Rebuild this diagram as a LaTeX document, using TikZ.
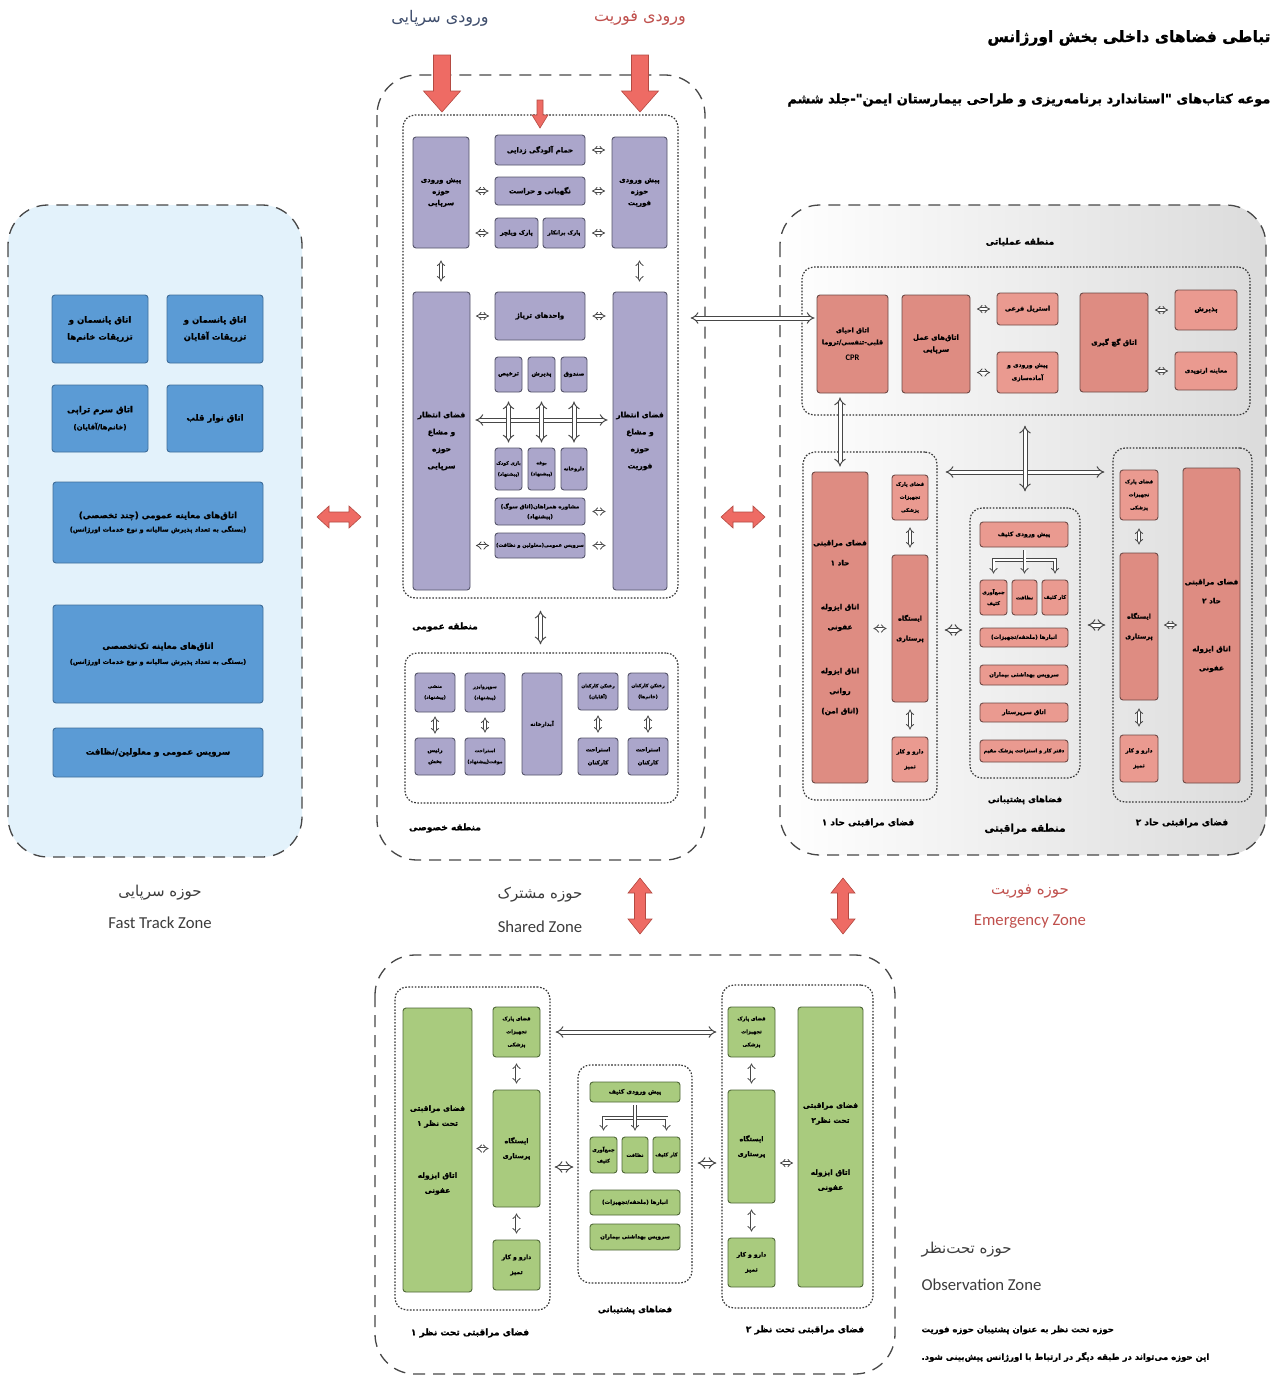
\documentclass[tikz,border=0pt]{standalone}
\usepackage{fontspec}
\setmainfont{DejaVu Sans}
\newfontfamily\arabicfont[Script=Arabic, BoldFeatures={FakeBold=1}]{DejaVu Sans}
\newfontfamily\latfont{Carlito}
\TeXXeTstate=1
\usetikzlibrary{arrows.meta}
\definecolor{ftbg}{HTML}{E3F2FB}
\definecolor{ftbox}{HTML}{5B9BD5}
\definecolor{ftboxD}{HTML}{3F6E9A}
\definecolor{cPur}{HTML}{ABA6CB}
\definecolor{cPurD}{HTML}{55546A}
\definecolor{cSal}{HTML}{EA9A90}
\definecolor{cSalT}{HTML}{DE8C82}
\definecolor{cSalD}{HTML}{6E4A46}
\definecolor{cGrn}{HTML}{A9CB7E}
\definecolor{cGrnD}{HTML}{4E6637}
\definecolor{cRed}{HTML}{EE6B64}
\definecolor{cRedD}{HTML}{B44A42}
\definecolor{cBlueT}{HTML}{3E4D6C}
\definecolor{cRedT}{HTML}{C0504D}
\definecolor{cGrayT}{HTML}{3C3C3C}
\newcommand\RL[1]{\beginR#1\endR}
\newcommand\af[2]{\arabicfont\bfseries\fontsize{#1}{#2}\selectfont}
\newcommand\bx[7]{\node[#1, minimum width={(#5)-(#3)}, minimum height={(#6)-(#4)}] (#2) at ({((#3)+(#5))/2},{((#4)+(#6))/2}) {#7};}
\tikzset{
  box/.style={rectangle, rounded corners=3pt, line width=0.9pt, align=center, inner sep=1pt, text=black, font=\af{7}{12}},
  bb/.style={box, fill=ftbox, draw=ftboxD, font=\af{8.5}{17}},
  pb/.style={box, fill=cPur, draw=cPurD},
  eb/.style={box, fill=cSal, draw=cSalD},
  et/.style={box, fill=cSalT, draw=cSalD},
  gb/.style={box, fill=cGrn, draw=cGrnD},
  tx4/.style={font=\af{4.6}{11}},
  tx5/.style={font=\af{5}{10}},
  tx55/.style={font=\af{5.5}{11}},
  tx6/.style={font=\af{6}{12}},
  tx65/.style={font=\af{6.5}{12}},
  parkt/.style={font=\af{5}{13}},
  zin/.style={rectangle, draw=black!80, line width=1.2pt, dash pattern=on 1.6pt off 1.6pt, rounded corners=12pt},
  zout/.style={draw=black!72, line width=1.3pt, dash pattern=on 12pt off 8pt, rounded corners=40pt},
  hs/.style={draw=black!72, line width=0.8pt, double=white, double distance=2pt, {Implies}-{Implies}},
  hb/.style={draw=black!72, line width=1pt, double=white, double distance=3pt, {Implies}-{Implies}},
  lab/.style={font=\af{9}{11}, text=black},
  zfa/.style={font=\arabicfont\fontsize{15}{18}\selectfont, text=cGrayT},
  zen/.style={font=\latfont\fontsize{16.7}{19}\selectfont, text=cGrayT},
  redarr/.style={fill=cRed, draw=cRedD, line width=0.6pt},
  rdown/.pic={\path[redarr] (-8.5,0) -- (8.5,0) -- (8.5,36) -- (18.5,36) -- (0,57) -- (-18.5,36) -- (-8.5,36) -- cycle;},
  rsmall/.pic={\path[redarr] (-3,0) -- (3,0) -- (3,15) -- (8,15) -- (0,28) -- (-8,15) -- (-3,15) -- cycle;},
  rdh/.pic={\path[redarr] (-22,0) -- (-10,-11) -- (-10,-5) -- (10,-5) -- (10,-11) -- (22,0) -- (10,11) -- (10,5) -- (-10,5) -- (-10,11) -- cycle;},
  rdv/.pic={\path[redarr] (0,-28) -- (12,-13) -- (5.5,-13) -- (5.5,13) -- (12,13) -- (0,28) -- (-12,13) -- (-5.5,13) -- (-5.5,-13) -- (-12,-13) -- cycle;},
}
\begin{document}
\begin{tikzpicture}[x=1pt,y=-1pt]
\useasboundingbox (0,0) rectangle (1272,1377);
\fill[white] (0,0) rectangle (1272,1377);

% ---------------- titles
\node[anchor=east, font=\af{15.5}{19}] (title) at (1274,38) {\RL{تباطی فضاهای داخلی بخش اورژانس}};
\node[anchor=east, font=\af{13}{16}] (subtitle) at (1274,100) {\RL{موعه کتاب‌های "استاندارد برنامه‌ریزی و طراحی بیمارستان ایمن"-جلد ششم}};
\node[font=\arabicfont\fontsize{16}{19}\selectfont, text=cBlueT] (entS) at (440,18) {\RL{ورودی سرپایی}};
\node[font=\arabicfont\fontsize{16}{19}\selectfont, text=cRedT] (entF) at (640,18) {\RL{ورودی فوریت}};

% ---------------- zone outlines
\draw[zout, fill=ftbg] (8,205) rectangle (302,857);
\draw[zout] (377,75) rectangle (705,860);
\draw[zout, left color=white, right color=black!14] (780,205) rectangle (1266,855);
\draw[zout] (375,955) rectangle (895,1374);

\bx{zin}{gen}{403}{115}{678}{598}{}
\bx{zin}{priv}{405}{653}{678}{803}{}
\bx{zin}{ops}{802}{267}{1250}{415}{}
\bx{zin}{a1z}{803}{452}{937}{800}{}
\bx{zin}{supz}{970}{508}{1080}{778}{}
\bx{zin}{a2z}{1113}{448}{1252}{802}{}
\bx{zin}{o1z}{395}{987}{550}{1310}{}
\bx{zin}{osz}{578}{1065}{692}{1283}{}
\bx{zin}{o2z}{722}{985}{873}{1308}{}

% ---------------- red arrows
\pic at (442,55) {rdown};
\pic at (640,55) {rdown};
\pic at (540,100) {rsmall};
\pic at (339,517) {rdh};
\pic at (743,517) {rdh};
\pic at (640,906) {rdv};
\pic at (843,906) {rdv};

% ---------------- fast track
\bx{bb}{ft1}{52}{295}{148}{363}{\RL{اتاق پانسمان و}\\\RL{تزریقات خانم‌ها}}
\bx{bb}{ft2}{167}{295}{263}{363}{\RL{اتاق پانسمان و}\\\RL{تزریقات آقایان}}
\bx{bb}{ft3}{52}{385}{148}{452}{\RL{اتاق سرم تراپی}\\{\af{7}{9}\RL{(خانم‌ها/آقایان)}}}
\bx{bb}{ft4}{167}{385}{263}{452}{\RL{اتاق نوار قلب}}
\bx{bb,font=\af{8.5}{13.5}}{ft5}{53}{482}{263}{563}{\RL{اتاق‌های معاینه عمومی (چند تخصصی)}\\{\af{6.5}{9}\RL{(بستگی به تعداد پذیرش سالیانه و نوع خدمات اورژانس)}}}
\bx{bb,font=\af{8.5}{15}}{ft6}{53}{605}{263}{703}{\RL{اتاق‌های معاینه تک‌تخصصی}\\{\af{6.5}{9}\RL{(بستگی به تعداد پذیرش سالیانه و نوع خدمات اورژانس)}}}
\bx{bb}{ft7}{53}{728}{263}{777}{\RL{سرویس عمومی و معلولین/نظافت}}
\node[zfa] (ftfa) at (160,893) {\RL{حوزه سرپایی}};
\node[zen] (ften) at (160,923) {Fast Track Zone};

% ---------------- shared zone
\bx{pb,font=\af{7}{11.5}}{preS}{413}{137}{469}{248}{\RL{پیش ورودی}\\\RL{حوزه}\\\RL{سرپایی}}
\bx{pb,font=\af{7}{11.5}}{preF}{612}{137}{667}{248}{\RL{پیش ورودی}\\\RL{حوزه}\\\RL{فوریت}}
\bx{pb}{decon}{495}{135}{585}{165}{\RL{حمام آلودگی زدایی}}
\bx{pb}{guard}{495}{177}{585}{205}{\RL{نگهبانی و حراست}}
\bx{pb,tx6}{wheel}{495}{218}{538}{248}{\RL{پارک ویلچر}}
\bx{pb,tx55}{stretch}{543}{218}{585}{248}{\RL{پارک برانکار}}
\bx{pb,font=\af{7.5}{17}}{waitS}{413}{292}{470}{590}{\RL{فضای انتظار}\\\RL{و مشاع}\\\RL{حوزه}\\\RL{سرپایی}}
\bx{pb,font=\af{7.5}{17}}{waitF}{613}{292}{667}{590}{\RL{فضای انتظار}\\\RL{و مشاع}\\\RL{حوزه}\\\RL{فوریت}}
\bx{pb}{triage}{495}{292}{585}{340}{\RL{واحدهای تریاژ}}
\bx{pb,tx6}{disch}{495}{357}{522}{392}{\RL{ترخیص}}
\bx{pb,tx6}{admit}{528}{357}{555}{392}{\RL{پذیرش}}
\bx{pb,tx6}{cash}{561}{357}{587}{392}{\RL{صندوق}}
\bx{pb,tx4}{play}{495}{448}{522}{490}{\RL{بازی کودک}\\\RL{(پیشنهاد)}}
\bx{pb,tx4}{buffet}{528}{448}{555}{490}{\RL{بوفه}\\\RL{(پیشنهاد)}}
\bx{pb,tx5}{pharm}{561}{448}{587}{490}{\RL{داروخانه}}
\bx{pb,tx55,font=\af{5.5}{10}}{counsel}{495}{498}{585}{525}{\RL{مشاوره همراهان(اتاق سوگ)}\\\RL{(پیشنهاد)}}
\bx{pb,tx5}{wc}{495}{533}{585}{558}{\RL{سرویس عمومی(معلولین و نظافت)}}

\bx{pb,tx4}{sec}{415}{673}{455}{712}{\RL{منشی}\\\RL{(پیشنهاد)}}
\bx{pb,tx55}{head}{415}{738}{455}{775}{\RL{رئیس}\\\RL{بخش}}
\bx{pb,tx4}{sup}{465}{673}{505}{712}{\RL{سوپروایزر}\\\RL{(پیشنهاد)}}
\bx{pb,tx4}{rest0}{465}{738}{505}{775}{\RL{استراحت}\\\RL{موقت(پیشنهاد)}}
\bx{pb,tx55}{pantry}{522}{673}{562}{775}{\RL{آبدارخانه}}
\bx{pb,tx4}{lockM}{578}{673}{618}{710}{\RL{رختکن کارکنان}\\\RL{(آقایان)}}
\bx{pb,tx4}{lockF}{628}{673}{668}{710}{\RL{رختکن کارکنان}\\\RL{(خانم‌ها)}}
\bx{pb,font=\af{5.5}{13}}{rest1}{578}{738}{618}{775}{\RL{استراحت}\\\RL{کارکنان}}
\bx{pb,font=\af{5.5}{13}}{rest2}{628}{738}{668}{775}{\RL{استراحت}\\\RL{کارکنان}}

\node[lab] (labgen) at (445,627) {\RL{منطقه عمومی}};
\node[lab] (labpriv) at (445,828) {\RL{منطقه خصوصی}};
\node[zfa] (shfa) at (540,895) {\RL{حوزه مشترک}};
\node[zen] (shen) at (540,927) {Shared Zone};

% shared connectors
\draw[hs, shorten <=6pt, shorten >=6pt] (preS.east |- guard) -- (guard.west);
\draw[hs, shorten <=6pt, shorten >=6pt] (preS.east |- wheel) -- (wheel.west);
\draw[hs, shorten <=6.5pt, shorten >=6.5pt] (decon.east) -- (preF.west |- decon);
\draw[hs, shorten <=6.5pt, shorten >=6.5pt] (guard.east) -- (preF.west |- guard);
\draw[hs, shorten <=6.5pt, shorten >=6.5pt] (stretch.east) -- (preF.west |- stretch);
\draw[hs, shorten <=12pt, shorten >=10pt] (preS.south) -- (preS.south |- waitS.north);
\draw[hs, shorten <=12pt, shorten >=10pt] (preF.south) -- (preF.south |- waitF.north);
\draw[hs, shorten <=5.5pt, shorten >=5.5pt] (waitS.east |- triage) -- (triage.west);
\draw[hs, shorten <=7pt, shorten >=7pt] (triage.east) -- (waitF.west |- triage);
\draw[hs, shorten <=7pt, shorten >=7pt] (counsel.east) -- (waitF.west |- counsel);
\draw[hs, shorten <=5.5pt, shorten >=5.5pt] (waitS.east |- wc) -- (wc.west);
\draw[hs, shorten <=7pt, shorten >=7pt] (wc.east) -- (waitF.west |- wc);
\coordinate (y420) at (0,420);
\draw[hb, shorten <=5pt, shorten >=5pt] (waitS.east |- y420) -- (waitF.west |- y420);
\foreach \a/\b in {disch/play, admit/buffet, cash/pharm}
  \draw[hb, shorten <=9pt, shorten >=5pt] (\a.south) -- (\a.south |- \b.north);
\foreach \a in {disch,admit,cash}
  \fill[white] (\a.south |- y420) ++(-1.5,-1.5) rectangle ++(3,3);
\draw[hb, shorten <=12pt, shorten >=8pt] (gen.south) -- (gen.south |- priv.north);
\draw[hs, shorten <=4pt, shorten >=4pt] (sec.south) -- (sec.south |- head.north);
\draw[hs, shorten <=5pt, shorten >=5pt] (sup.south) -- (sup.south |- rest0.north);
\draw[hs, shorten <=5pt, shorten >=5pt] (lockM.south) -- (lockM.south |- rest1.north);
\draw[hs, shorten <=5pt, shorten >=5pt] (lockF.south) -- (lockF.south |- rest2.north);

% ---------------- emergency zone
\node[lab] (labops) at (1020,242) {\RL{منطقه عملیاتی}};
\bx{et,tx65}{cpr}{817}{295}{888}{393}{\RL{اتاق احیای}\\\RL{قلبی-تنفسی/تروما}\\[4pt]{\latfont\bfseries\fontsize{8.5}{10}\selectfont CPR}}
\bx{et}{surg}{902}{295}{970}{393}{\RL{اتاق‌های عمل}\\\RL{سرپایی}}
\bx{eb,tx65}{steril}{997}{293}{1058}{325}{\RL{استریل فرعی}}
\bx{eb,font=\af{6}{13}}{preop}{997}{352}{1058}{393}{\RL{پیش ورودی و}\\\RL{آماده‌سازی}}
\bx{et}{cast}{1080}{293}{1148}{392}{\RL{اتاق گچ گیری}}
\bx{eb}{recep}{1175}{290}{1237}{330}{\RL{پذیرش}}
\bx{eb,tx6}{ortho}{1175}{352}{1237}{390}{\RL{معاینه ارتوپدی}}

\bx{et,font=\af{7.3}{20}}{a1tall}{812}{472}{868}{783}{\RL{فضای مراقبتی}\\\RL{حاد ۱}\\[24pt]\RL{اتاق ایزوله}\\\RL{عفونی}\\[24pt]\RL{اتاق ایزوله}\\\RL{روانی}\\\RL{(اتاق امن)}}
\bx{eb,parkt}{a1park}{892}{475}{928}{520}{\RL{فضای پارک}\\\RL{تجهیزات}\\\RL{پزشکی}}
\bx{et,font=\af{6.5}{20}}{a1nurse}{892}{555}{928}{702}{\RL{ایستگاه}\\\RL{پرستاری}}
\bx{eb,font=\af{5.5}{15}}{a1drug}{892}{737}{928}{782}{\RL{دارو و کار}\\\RL{تمیز}}

\bx{eb,tx6}{dpre}{980}{522}{1068}{547}{\RL{پیش ورودی کثیف}}
\bx{eb,font=\af{5}{11}}{dcol}{980}{580}{1007}{615}{\RL{جمع‌آوری}\\\RL{کثیف}}
\bx{eb,tx5}{dcln}{1012}{580}{1037}{615}{\RL{نظافت}}
\bx{eb,tx5}{dwork}{1042}{580}{1068}{615}{\RL{کار کثیف}}
\bx{eb,tx55}{store}{980}{628}{1068}{647}{\RL{انبارها (ملحفه/تجهیزات)}}
\bx{eb,tx55}{pwc}{980}{665}{1068}{685}{\RL{سرویس بهداشتی بیماران}}
\bx{eb,tx6}{headn}{980}{703}{1068}{722}{\RL{اتاق سرپرستار}}
\bx{eb,tx5}{doc}{980}{740}{1068}{762}{\RL{دفتر کار و استراحت پزشک مقیم}}

\bx{eb,parkt}{a2park}{1120}{470}{1158}{520}{\RL{فضای پارک}\\\RL{تجهیزات}\\\RL{پزشکی}}
\bx{et,font=\af{6.5}{20}}{a2nurse}{1120}{553}{1158}{700}{\RL{ایستگاه}\\\RL{پرستاری}}
\bx{eb,font=\af{5.5}{15}}{a2drug}{1120}{735}{1158}{782}{\RL{دارو و کار}\\\RL{تمیز}}
\bx{et,font=\af{7.3}{19}}{a2tall}{1183}{468}{1240}{783}{\RL{فضای مراقبتی}\\\RL{حاد ۲}\\[29pt]\RL{اتاق ایزوله}\\\RL{عفونی}}

\node[lab] (laba1) at (868,823) {\RL{فضای مراقبتی حاد ۱}};
\node[lab, font=\af{8.5}{10}] (labsup) at (1025,800) {\RL{فضاهای پشتیبانی}};
\node[lab, font=\af{10.5}{12}] (labcare) at (1025,829) {\RL{منطقه مراقبتی}};
\node[lab] (laba2) at (1182,823) {\RL{فضای مراقبتی حاد ۲}};
\node[zfa, text=cRedT] (emfa) at (1030,892) {\RL{حوزه فوریت}};
\node[zen, text=cRedT] (emen) at (1030,922) {Emergency Zone};

% emergency connectors
\coordinate (y318) at (0,318);
\draw[hb, shorten <=12pt, shorten >=2pt] (gen.east |- y318) -- (cpr.west |- y318);
\draw[hs, shorten <=6.5pt, shorten >=6.5pt] (surg.east |- steril) -- (steril.west);
\draw[hs, shorten <=6.5pt, shorten >=6.5pt] (surg.east |- preop) -- (preop.west);
\draw[hs, shorten <=6.5pt, shorten >=6.5pt] (cast.east |- recep) -- (recep.west);
\draw[hs, shorten <=6.5pt, shorten >=6.5pt] (cast.east |- ortho) -- (ortho.west);
\draw[hb, shorten <=4pt, shorten >=5pt] (a1tall.north |- cpr.south) -- (a1tall.north);
\coordinate (y472) at (0,472);
\draw[hb, shorten <=8pt, shorten >=8pt] (a1z.east |- y472) -- (a2z.west |- y472);
\draw[hb, shorten <=10pt, shorten >=16pt] (supz.north |- ops.south) -- (supz.north);
\fill[white] (supz.north |- y472) ++(-1.5,-1.5) rectangle ++(3,3);
\draw[hs, shorten <=5pt, shorten >=5pt] (a1tall.east |- a1nurse) -- (a1nurse.west);
\draw[hs, shorten <=7pt, shorten >=7pt] (a1park.south) -- (a1park.south |- a1nurse.north);
\draw[hs, shorten <=7pt, shorten >=7pt] (a1nurse.south) -- (a1nurse.south |- a1drug.north);
\coordinate (y630) at (0,630);
\draw[hb, shorten <=7pt, shorten >=7pt] (a1z.east |- y630) -- (supz.west |- y630);
\coordinate (y625) at (0,625);
\draw[hb, shorten <=7pt, shorten >=7pt] (supz.east |- y625) -- (a2z.west |- y625);
\draw[hs, shorten <=5.5pt, shorten >=5.5pt] (a2nurse.east |- y625) -- (a2tall.west |- y625);
\draw[hs, shorten <=8pt, shorten >=8pt] (a2park.south) -- (a2park.south |- a2nurse.north);
\draw[hs, shorten <=8pt, shorten >=8pt] (a2nurse.south) -- (a2nurse.south |- a2drug.north);
\coordinate (t1) at (0,560);
\draw[hs, shorten <=6pt, shorten >=6pt] (dcol.north) -- (dcol.north |- t1) -- (dwork.north |- t1) -- (dwork.north);
\draw[hs, -{Implies}, shorten <=3pt, shorten >=6pt] (dcln.north |- dpre.south) -- (dcln.north);
\fill[white] (dcln.north |- t1) ++(-1,-1) rectangle ++(2,2);

% ---------------- observation zone
\bx{gb,font=\af{7.5}{15}}{o1tall}{403}{1008}{472}{1292}{\RL{فضای مراقبتی}\\\RL{تحت نظر ۱}\\[37pt]\RL{اتاق ایزوله}\\\RL{عفونی}}
\bx{gb,parkt}{o1park}{493}{1007}{540}{1057}{\RL{فضای پارک}\\\RL{تجهیزات}\\\RL{پزشکی}}
\bx{gb,font=\af{6.5}{15}}{o1nurse}{493}{1090}{540}{1207}{\RL{ایستگاه}\\\RL{پرستاری}}
\bx{gb,font=\af{6}{15}}{o1drug}{493}{1240}{540}{1290}{\RL{دارو و کار}\\\RL{تمیز}}

\bx{gb,tx6}{odpre}{590}{1082}{680}{1102}{\RL{پیش ورودی کثیف}}
\bx{gb,font=\af{5}{11}}{odcol}{590}{1137}{617}{1173}{\RL{جمع‌آوری}\\\RL{کثیف}}
\bx{gb,tx5}{odcln}{622}{1137}{648}{1173}{\RL{نظافت}}
\bx{gb,tx5}{odwork}{653}{1137}{680}{1173}{\RL{کار کثیف}}
\bx{gb,tx55}{ostore}{590}{1190}{680}{1215}{\RL{انبارها (ملحفه/تجهیزات)}}
\bx{gb,tx55}{opwc}{590}{1224}{680}{1250}{\RL{سرویس بهداشتی بیماران}}

\bx{gb,parkt}{o2park}{728}{1007}{775}{1057}{\RL{فضای پارک}\\\RL{تجهیزات}\\\RL{پزشکی}}
\bx{gb,font=\af{6.5}{15}}{o2nurse}{728}{1090}{775}{1203}{\RL{ایستگاه}\\\RL{پرستاری}}
\bx{gb,font=\af{6}{15}}{o2drug}{728}{1238}{775}{1287}{\RL{دارو و کار}\\\RL{تمیز}}
\bx{gb,font=\af{7.5}{15}}{o2tall}{798}{1007}{863}{1287}{\RL{فضای مراقبتی}\\\RL{تحت نظر۲}\\[37pt]\RL{اتاق ایزوله}\\\RL{عفونی}}

\node[lab, font=\af{8.5}{10}] (labosup) at (635,1310) {\RL{فضاهای پشتیبانی}};
\node[lab] (labo1) at (470,1333) {\RL{فضای مراقبتی تحت نظر ۱}};
\node[lab] (labo2) at (805,1330) {\RL{فضای مراقبتی تحت نظر ۲}};

\node[anchor=west, font=\arabicfont\fontsize{15}{18}\selectfont, text=cGrayT] (obfa) at (918,1250) {\RL{حوزه تحت‌نظر}};
\node[anchor=west, zen] (oben) at (918,1285) {Observation Zone};
\node[anchor=west, font=\af{8.5}{10}] (obp1) at (918,1330) {\RL{حوزه تحت نظر به عنوان پشتیبان حوزه فوریت}};
\node[anchor=west, font=\af{8.5}{10}] (obp2) at (918,1357) {\RL{این حوزه می‌تواند در طبقه دیگر در ارتباط با اورژانس پیش‌بینی شود.}};

% observation connectors
\draw[hs, shorten <=4pt, shorten >=4pt] (o1tall.east |- o1nurse) -- (o1nurse.west);
\draw[hs, shorten <=6pt, shorten >=6pt] (o1park.south) -- (o1park.south |- o1nurse.north);
\draw[hs, shorten <=6pt, shorten >=6pt] (o1nurse.south) -- (o1nurse.south |- o1drug.north);
\coordinate (y1167) at (0,1167);
\draw[hb, shorten <=4pt, shorten >=4pt] (o1z.east |- y1167) -- (osz.west |- y1167);
\coordinate (y1163) at (0,1163);
\draw[hb, shorten <=5pt, shorten >=5pt] (osz.east |- y1163) -- (o2z.west |- y1163);
\draw[hs, shorten <=4.5pt, shorten >=4.5pt] (o2nurse.east |- y1163) -- (o2tall.west |- y1163);
\draw[hs, shorten <=6pt, shorten >=6pt] (o2park.south) -- (o2park.south |- o2nurse.north);
\draw[hs, shorten <=6pt, shorten >=6pt] (o2nurse.south) -- (o2nurse.south |- o2drug.north);
\coordinate (y1032) at (0,1032);
\draw[hb, shorten <=5pt, shorten >=5pt] (o1z.east |- y1032) -- (o2z.west |- y1032);
\coordinate (t2) at (0,1118);
\draw[hs, shorten <=6pt, shorten >=6pt] (odcol.north) -- (odcol.north |- t2) -- (odwork.north |- t2) -- (odwork.north);
\draw[hs, -{Implies}, shorten <=3pt, shorten >=6pt] (odcln.north |- odpre.south) -- (odcln.north);
\fill[white] (odcln.north |- t2) ++(-1,-1) rectangle ++(2,2);
\end{tikzpicture}
\end{document}
